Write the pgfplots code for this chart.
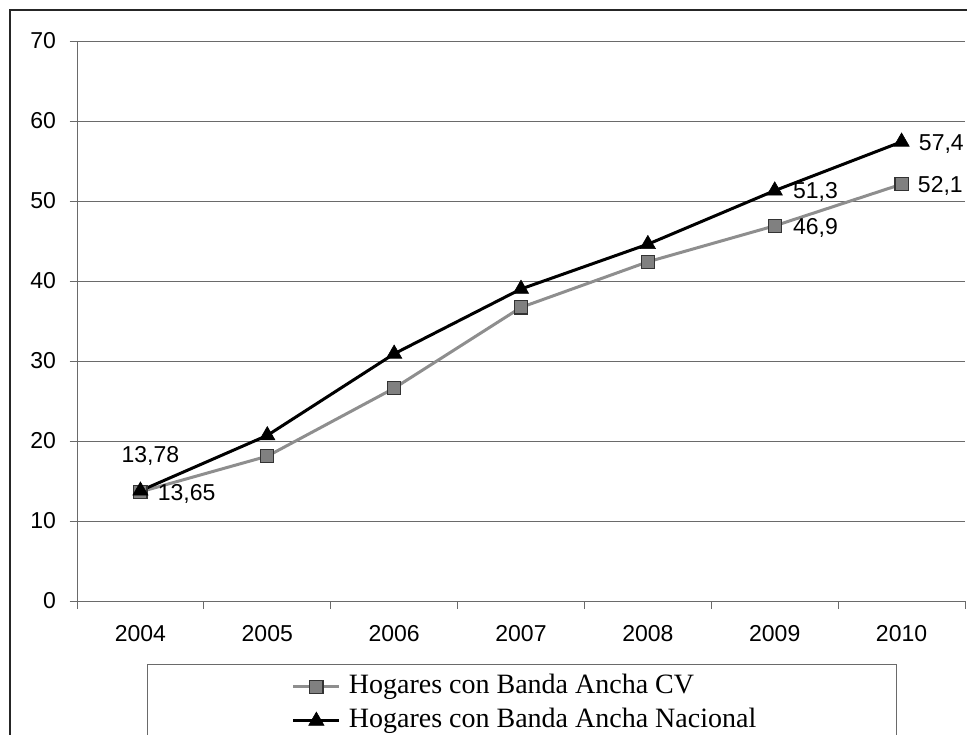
\documentclass[border=0pt]{standalone}
\usepackage{pgfplots}
\pgfplotsset{compat=1.18}
\usepackage{fontspec}
\setmainfont{Liberation Serif}
\newfontfamily\arial{Liberation Sans}
\definecolor{axgray}{HTML}{6A6A6A}
\definecolor{cvline}{HTML}{8E8E8E}
\definecolor{cvfill}{HTML}{808080}
\newcommand\lab{\arial\fontsize{11.5}{13}\selectfont}
\begin{document}
\begin{tikzpicture}
\begin{axis}[
  at={(0,0)}, anchor=south west,
  scale only axis, width=444pt, height=280pt,
  xmin=-0.5, xmax=6.5, ymin=0, ymax=70,
  xtick={-0.5,0.5,...,6.5},
  xticklabels={2004,2005,2006,2007,2008,2009,2010},
  x tick label as interval,
  ytick={0,10,...,70},
  axis x line*=bottom, axis y line*=left,
  axis line style={axgray, line width=0.5pt, -},
  tick style={axgray, line width=0.5pt},
  tick align=outside, major tick length=3.75pt,
  ymajorgrids, grid style={axgray, line width=0.5pt},
  tick label style={font=\lab},
  yticklabel style={xshift=-3.25pt},
  xticklabel style={yshift=-5pt},
  /pgf/number format/assume math mode=true,
  legend style={at={(axis description cs:0.0788,-0.1125)}, anchor=north west,
    draw=axgray, inner xsep=0pt, inner ysep=4.5pt,
    font=\fontsize{14}{16}\selectfont, row sep=3.5pt, column sep=4pt,
    nodes={inner sep=0pt, text height=10pt, text depth=3.5pt}},
  legend cell align=left,
  legend image code/.code={\path[draw=none, fill=none] (-73pt,0pt) (0pt,0pt);
    \draw[mark repeat=2, mark phase=2] plot coordinates {(0pt,0pt)(11.5pt,0pt)(23pt,0pt)};},
  clip=false,
]
\addplot[cvline, line width=1.5pt, mark=square*, mark size=3.3pt,
  mark options={fill=cvfill, draw=black!80, line width=0.6pt, solid}]
  coordinates {(0,13.65)(1,18.1)(2,26.6)(3,36.7)(4,42.4)(5,46.9)(6,52.1)};
\addlegendentry{\makebox[274pt][l]{Hogares con Banda Ancha CV}}
\addplot[black, line width=1.5pt, mark=triangle*, mark size=4.4pt,
  mark options={line width=0.3pt, solid}]
  coordinates {(0,13.78)(1,20.7)(2,30.9)(3,39.0)(4,44.6)(5,51.3)(6,57.4)};
\addlegendentry{\makebox[274pt][l]{Hogares con Banda Ancha Nacional}}
\node[anchor=base west, inner sep=0pt, font=\lab, xshift=8.5pt, yshift=-4.1pt] at (axis cs:6,57.4) {57,4};
\node[anchor=base west, inner sep=0pt, font=\lab, xshift=8pt, yshift=-4.1pt] at (axis cs:6,52.1) {52,1};
\node[anchor=base west, inner sep=0pt, font=\lab, xshift=9pt, yshift=-4.1pt] at (axis cs:5,51.3) {51,3};
\node[anchor=base west, inner sep=0pt, font=\lab, xshift=9pt, yshift=-4.1pt] at (axis cs:5,46.9) {46,9};
\node[anchor=base west, inner sep=0pt, font=\lab, xshift=8.5pt, yshift=-4.1pt] at (axis cs:0,13.65) {13,65};
\node[anchor=base, inner sep=0pt, font=\lab, xshift=5pt, yshift=13.9pt] at (axis cs:0,13.78) {13,78};
\end{axis}
\draw[line width=1pt, black!85] (-33.5pt,-80pt) -- (-33.5pt,295.5pt) -- (460pt,295.5pt);
\pgfresetboundingbox
\useasboundingbox (-38.5pt,-66.5pt) rectangle (445pt,300.5pt);
\end{tikzpicture}
\end{document}
